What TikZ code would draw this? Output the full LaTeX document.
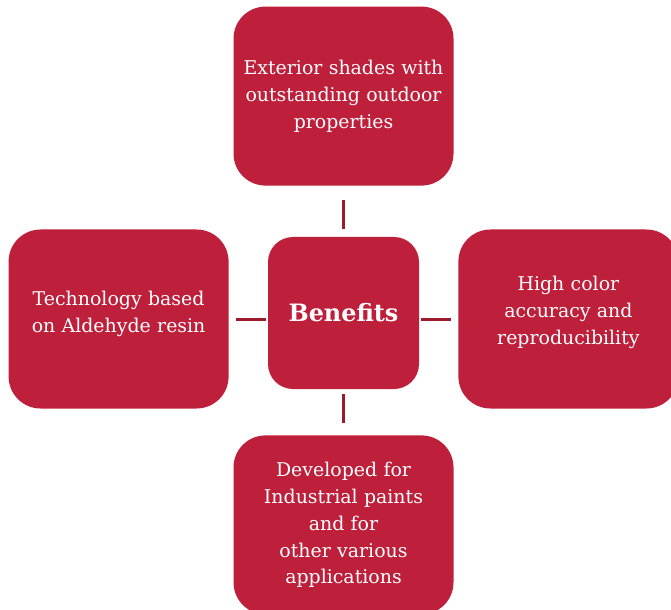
\documentclass[tikz,border=0pt]{standalone}
\usepackage{fontspec}
\setmainfont{DejaVu Serif}
\usetikzlibrary{positioning}
\definecolor{benred}{HTML}{BE1F3A}
\definecolor{linkred}{HTML}{9C1A2B}
\tikzset{
  leaf/.style={fill=benred,text=white,rounded corners=32bp,align=center,font=\fontsize{19}{27}\selectfont,text width=212bp,inner xsep=4bp,minimum height=179bp},
  hub/.style={fill=benred,text=white,rounded corners=25bp,align=center,font=\fontsize{24}{30}\selectfont\bfseries,minimum width=151bp,minimum height=152bp,inner sep=0pt},
  link/.style={line width=3bp,color=linkred},
}
\begin{document}
\begin{tikzpicture}[x=1bp,y=1bp]
  \clip (0,0) rectangle (671,-610);
  \node[hub] (ctr) at (343.5,-313) {Benefits};
  \node[leaf,above=51bp of ctr] (top) {Exterior shades with\\outstanding outdoor\\properties};
  \node[leaf,text depth=41bp,left=39bp of ctr,yshift=-6bp] (lft) {Technology based\\on Aldehyde resin};
  \node[leaf,text depth=71bp,right=39bp of ctr,yshift=-6bp] (rgt) {High color\\accuracy and\\reproducibility};
  \node[leaf,below=46bp of ctr] (bot) {Developed for\\Industrial paints\\and for\\other various\\applications};
  \draw[link,shorten <=14bp,shorten >=8bp] (top) -- (ctr);
  \draw[link,shorten <=7bp,shorten >=2bp] (lft.east) -- (lft.east -| ctr.west);
  \draw[link,shorten <=2bp,shorten >=7bp] (ctr.east |- rgt.west) -- (rgt.west);
  \draw[link,shorten <=5bp,shorten >=12bp] (ctr) -- (bot);
\end{tikzpicture}
\end{document}
